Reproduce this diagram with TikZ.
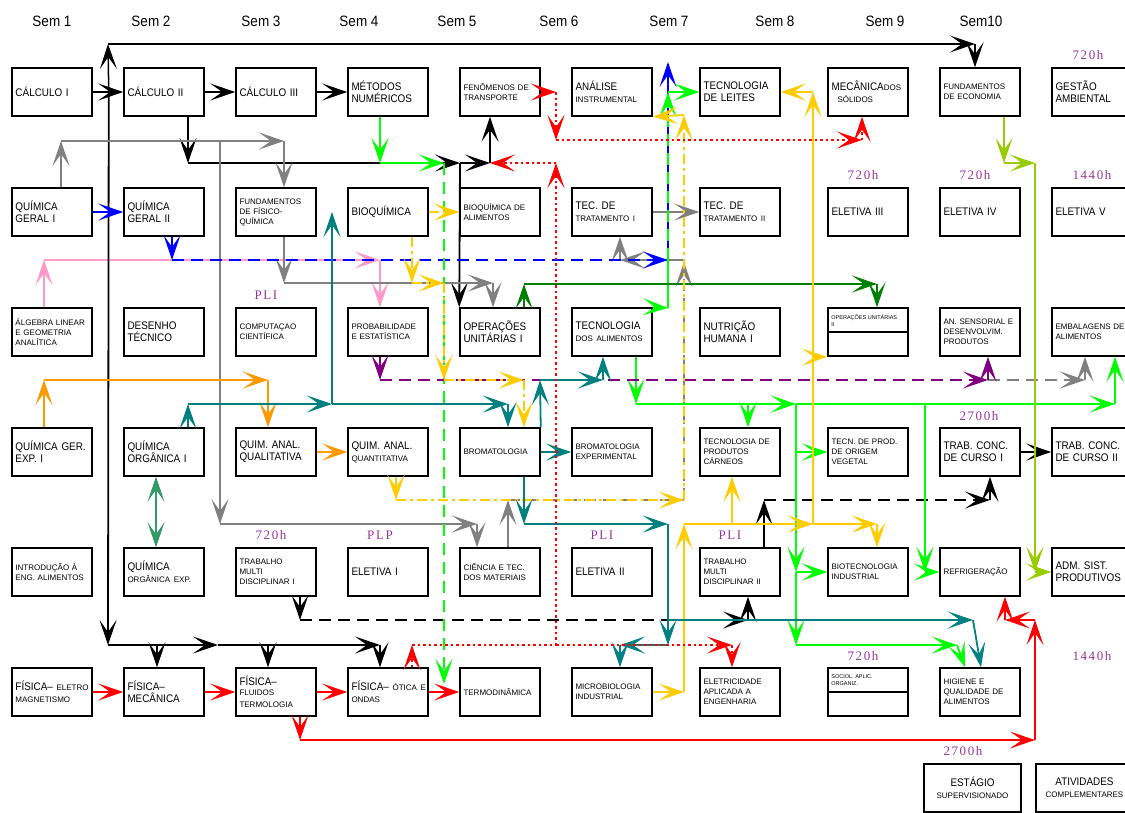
\documentclass[tikz,border=0pt]{standalone}
\usepackage{fontspec}
\setmainfont{Liberation Sans}
\newfontfamily\condfont[FakeStretch=0.9]{Liberation Sans}
\newfontfamily\hrsfont[LetterSpace=12]{Liberation Serif}
\usetikzlibrary{arrows.meta,positioning}

\definecolor{cgray}{HTML}{808080}
\definecolor{cpink}{HTML}{FF99CC}
\definecolor{cgreen}{HTML}{00FF00}
\definecolor{cdkgreen}{HTML}{008000}
\definecolor{csea}{HTML}{339966}
\definecolor{cteal}{HTML}{008080}
\definecolor{corange}{HTML}{FF9900}
\definecolor{cyellow}{HTML}{FFCC00}
\definecolor{cpurple}{HTML}{800080}
\definecolor{colive}{HTML}{99CC00}
\definecolor{chour}{HTML}{993399}

\newcommand{\bigtxt}{\condfont\fontsize{11}{12}\selectfont}
\newcommand{\smtxt}{\normalfont\fontsize{8}{10}\selectfont}
\newcommand{\tinytxt}{\normalfont\fontsize{5.5}{7}\selectfont}

\tikzset{
  course/.style={draw, line width=1.5pt, fill=white, minimum width=80pt, minimum height=48pt,
    text width=73pt, inner sep=3.5pt, align=left, font=\bigtxt},
  smallc/.style={course, font=\smtxt},
  splitc/.style={course, path picture={\draw[line width=1.5pt] (path picture bounding box.west) -- (path picture bounding box.east);}},
  link/.style={->, line width=1.8pt},
  dsh/.style={dash pattern=on 12pt off 7pt},
  ydash/.style={dash pattern=on 10pt off 4pt on 3pt off 4pt},
  rdots/.style={line width=2.2pt, dash pattern=on 2.5pt off 3pt},
  hrs/.style={text=chour, font=\hrsfont\fontsize{13}{13}\selectfont, inner sep=0pt},
  sem/.style={font=\condfont\fontsize{15}{15}\selectfont, inner sep=0pt},
  >={Stealth[length=25pt,width=17pt,inset=12pt]}
}

\begin{document}
\begin{tikzpicture}[x=1pt,y=1pt,node distance=112pt]
  \useasboundingbox (0,0) rectangle (1125,-812);
  \fill[white] (0,0) rectangle (1125,-812);

  % semesters
  \foreach \x/\t [count=\i] in {52/Sem 1,151/Sem 2,261/Sem 3,359/Sem 4,457/Sem 5,559/Sem 6,669/Sem 7,775/Sem 8,885/Sem 9,981/Sem10}
    \node[sem] (sem\i) at (\x,-21) {\t};

  % row 1
  \node[course] (calc1) at (52,-92) {CÁLCULO I};
  \node[course] (calc2) [right of=calc1] {CÁLCULO II};
  \node[course] (calc3) [right of=calc2] {CÁLCULO III};
  \node[course] (metnum) [right of=calc3] {MÉTODOS\\NUMÉRICOS};
  \node[smallc] (fentr) [right of=metnum] {FENÔMENOS DE\\TRANSPORTE};
  \node[course] (analinst) [right of=fentr] {ANÁLISE\\\smtxt INSTRUMENTAL};
  \node[course] (tecleite) [right of=analinst, node distance=128pt] {TECNOLOGIA\\DE LEITES};
  \node[course] (mecsol) [right of=tecleite, node distance=128pt] {MECÂNICA{\smtxt DOS}\\\smtxt\hspace*{6pt}SÓLIDOS};
  \node[smallc] (fundeco) [right of=mecsol] {FUNDAMENTOS\\DE ECONOMIA};
  \node[course] (gestamb) [right of=fundeco] {GESTÃO\\AMBIENTAL};

  % row 2
  \node[course] (qg1) [below of=calc1, node distance=120pt] {QUÍMICA\\GERAL I};
  \node[course] (qg2) [right of=qg1] {QUÍMICA\\GERAL II};
  \node[smallc] (fisqui) [right of=qg2] {FUNDAMENTOS\\DE FÍSICO-\\QUÍMICA};
  \node[course] (bioq) [right of=fisqui] {BIOQUÍMICA};
  \node[smallc] (bioqal) [right of=bioq] {BIOQUÍMICA DE\\ALIMENTOS};
  \node[course] (tectr1) [right of=bioqal] {TEC. DE\\\smtxt TRATAMENTO I};
  \node[course] (tectr2) [right of=tectr1, node distance=128pt] {TEC. DE\\\smtxt TRATAMENTO II};
  \node[course] (elet3) [right of=tectr2, node distance=128pt] {ELETIVA III};
  \node[course] (elet4) [right of=elet3] {ELETIVA IV};
  \node[course] (elet5) [right of=elet4] {ELETIVA V};

  % row 3
  \node[smallc] (alglin) [below of=qg1, node distance=120pt] {ÁLGEBRA LINEAR\\E GEOMETRIA\\ANALÍTICA};
  \node[course] (desenho) [right of=alglin] {DESENHO\\TÉCNICO};
  \node[smallc] (compcie) [right of=desenho] {COMPUTAÇAO\\CIENTÍFICA};
  \node[smallc] (probest) [right of=compcie] {PROBABILIDADE\\E ESTATÍSTICA};
  \node[course] (opun1) [right of=probest] {OPERAÇÕES\\UNITÁRIAS I};
  \node[course] (tecal) [right of=opun1] {TECNOLOGIA\\\smtxt DOS ALIMENTOS};
  \node[course] (nutr) [right of=tecal, node distance=128pt] {NUTRIÇÃO\\HUMANA I};
  \node[splitc, label={[anchor=north west, font=\tinytxt, align=left, inner sep=0pt, xshift=4pt, yshift=-7pt]north west:OPERAÇÕES UNITÁRIAS\\II}] (opun2) [right of=nutr, node distance=128pt] {};
  \node[smallc] (ansens) [right of=opun2] {AN. SENSORIAL E\\DESENVOLVIM.\\PRODUTOS};
  \node[smallc] (embal) [right of=ansens] {EMBALAGENS DE\\ALIMENTOS};

  % row 4
  \node[course] (qgexp) [below of=alglin, node distance=120pt] {QUÍMICA GER.\\EXP. I};
  \node[course] (qorg1) [right of=qgexp] {QUÍMICA\\ORGÂNICA I};
  \node[course] (qualit) [right of=qorg1] {QUIM. ANAL.\\QUALITATIVA};
  \node[course] (quantit) [right of=qualit] {QUIM. ANAL.\\\smtxt QUANTITATIVA};
  \node[smallc] (broma) [right of=quantit] {BROMATOLOGIA};
  \node[smallc] (bromexp) [right of=broma] {BROMATOLOGIA\\EXPERIMENTAL};
  \node[smallc] (tecarn) [right of=bromexp, node distance=128pt] {TECNOLOGIA DE\\PRODUTOS\\CÁRNEOS};
  \node[smallc] (tecveg) [right of=tecarn, node distance=128pt] {TECN. DE PROD.\\DE ORIGEM\\VEGETAL};
  \node[course] (tcc1) [right of=tecveg] {TRAB. CONC.\\DE CURSO I};
  \node[course] (tcc2) [right of=tcc1] {TRAB. CONC.\\DE CURSO II};

  % row 5
  \node[smallc] (introeng) [below of=qgexp, node distance=120pt] {INTRODUÇÃO À\\ENG. ALIMENTOS};
  \node[course] (qorgexp) [right of=introeng] {QUÍMICA\\\smtxt ORGÂNICA EXP.};
  \node[smallc] (tmd1) [right of=qorgexp] {TRABALHO\\MULTI\\DISCIPLINAR I};
  \node[course] (elet1) [right of=tmd1] {ELETIVA I};
  \node[smallc] (cienmat) [right of=elet1] {CIÊNCIA E TEC.\\DOS MATERIAIS};
  \node[course] (elet2) [right of=cienmat] {ELETIVA II};
  \node[smallc] (tmd2) [right of=elet2, node distance=128pt] {TRABALHO\\MULTI\\DISCIPLINAR II};
  \node[smallc] (biotec) [right of=tmd2, node distance=128pt] {BIOTECNOLOGIA\\INDUSTRIAL};
  \node[smallc] (refrig) [right of=biotec] {REFRIGERAÇÃO};
  \node[course] (admsist) [right of=refrig] {ADM. SIST.\\PRODUTIVOS};

  % row 6
  \node[course] (fiseletro) [below of=introeng, node distance=120pt] {\mbox{FÍSICA–{\smtxt~ELETRO}}\\\smtxt MAGNETISMO};
  \node[course] (fismec) [right of=fiseletro] {FÍSICA–\\MECÂNICA};
  \node[course] (fisflu) [right of=fismec] {FÍSICA–\\\smtxt FLUIDOS\\TERMOLOGIA};
  \node[course] (fisotica) [right of=fisflu] {\mbox{FÍSICA–{\smtxt~ÓTICA E}}\\\smtxt ONDAS};
  \node[smallc] (termo) [right of=fisotica] {TERMODINÂMICA};
  \node[smallc] (microb) [right of=termo] {MICROBIOLOGIA\\INDUSTRIAL};
  \node[smallc] (eletric) [right of=microb, node distance=128pt] {ELETRICIDADE\\APLICADA A\\ENGENHARIA};
  \node[splitc, label={[anchor=north west, font=\tinytxt, align=left, inner sep=0pt, xshift=4pt, yshift=-7pt]north west:SOCIOL. APLIC.\\ORGANIZ.}] (sociol) [right of=eletric, node distance=128pt] {};
  \node[smallc] (higiene) [right of=sociol] {HIGIENE E\\QUALIDADE DE\\ALIMENTOS};

  % estagio
  \node[course, minimum width=97pt, text width=89pt, align=center] (estagio) at (972.5,-788) {ESTÁGIO\\\smtxt SUPERVISIONADO};
  \node[course, minimum width=97pt, text width=89pt, align=center] (ativ) at (1084.5,-788) {ATIVIDADES\\\smtxt COMPLEMENTARES};

  % hours
  \node[hrs] (h1) at (1088,-55) {720h};
  \node[hrs] (h2) at (863,-175) {720h};
  \node[hrs] (h3) at (975,-175) {720h};
  \node[hrs] (h4) at (1092,-175) {1440h};
  \node[hrs] (h5) at (266,-295) {PLI};
  \node[hrs] (h6) at (979,-416) {2700h};
  \node[hrs] (h7) at (271,-535) {720h};
  \node[hrs] (h8) at (380,-535) {PLP};
  \node[hrs] (h9) at (602,-535) {PLI};
  \node[hrs] (h10) at (730,-535) {PLI};
  \node[hrs] (h11) at (863,-656) {720h};
  \node[hrs] (h12) at (1092,-656) {1440h};
  \node[hrs] (h13) at (963,-751) {2700h};

  \coordinate (jc) at ([xshift=16pt]calc1.east);

  % pink
  \path[link, cpink] ([xshift=-8pt]alglin.north) edge (44,-260) (44,-260) edge (380,-260) (380,-260) edge ([xshift=-8pt]probest.north);

  % black
  \path[link] (calc1) edge (calc2) (calc2) edge (calc3) (calc3) edge (metnum) (tcc1) edge (tcc2);
  \path[link, line width=1.5pt] (jc) edge (108,-44) (108,-44) edge (975,-44) (975,-44) edge ([xshift=-5pt]fundeco.north);
  \path[link] (jc) edge (108,-645) (108,-645) edge (218,-645) (218,-645) edge (380,-645) (380,-645) edge ([xshift=-8pt]fisotica.north)
    (157,-645) edge ([xshift=-7pt]fismec.north) (268,-645) edge ([xshift=-8pt]fisflu.north);
  \path[link] ([xshift=24pt]calc2.south) edge (188,-163) (188,-163) edge (460,-163) (460,-163) edge (490,-163)
    (490,-163) edge ([xshift=-10pt]fentr.south) (460,-163) edge (opun1.north west);
  \path[link] ([xshift=24pt]tmd1.south) edge (300,-620) (300,-620) edge[dsh] (748,-620) (748,-620) edge ([xshift=8pt]tmd2.south);
  \path[link] ([xshift=24pt]tmd2.north) edge (764,-500) (764,-500) edge[dsh] (990,-500) (990,-500) edge ([xshift=10pt]tcc1.south);

  % gray
  \path[link, cgray] ([xshift=9pt]qg1.north) edge (61,-141) (61,-141) edge (284,-141) (284,-141) edge ([xshift=8pt]fisqui.north)
    (220,-141) edge (220,-524) (220,-524) edge (477,-524) (477,-524) edge ([xshift=-23pt]cienmat.north)
    ([xshift=8pt]fisqui.south) edge (284,-283) (284,-283) edge (493,-283) (493,-283) edge ([xshift=-7pt]opun1.north);
  \path[link, cgray, line width=1.2pt] ([xshift=8pt]cienmat.north) edge (508,-500) (tectr1) edge (tectr2);
  \path[link, cgray] (508,-500) edge[-, dsh] (684,-500) (684,-500) edge[dsh] (684,-262) (684,-260) edge (620,-260)
    (620,-260) edge ([xshift=8pt]tectr1.south) (684,-380) edge[dsh] (1085,-380) (1085,-380) edge ([xshift=-7pt]embal.south);

  % blue
  \path[link, blue] (qg1) edge (qg2) ([xshift=8pt]qg2.south) edge (172,-260) (172,-260) edge[dsh] (668,-260) (668,-260) edge (668,-62);

  % green
  \path[link, cgreen] ([xshift=-8pt]metnum.south) edge (380,-163) (380,-163) edge (444,-163) (444,-163) edge[dsh] (444,-684)
    (tecal.north east) edge (668,-308) (668,-308) edge[-] (668,-260) (668,-260) edge[dsh] (668,-92) (668,-92) edge (tecleite)
    ([xshift=24pt]tecal.south) edge (636,-404) (636,-404) edge (796,-404) (796,-404) edge (1115,-404)
    (1115,-404) edge ([xshift=23pt]embal.south) (748,-404) edge ([xshift=8pt]tecarn.north)
    (796,-404) edge (796,-572) (796,-452) edge (tecveg) (796,-572) edge (biotec) (796,-572) edge (796,-645)
    (796,-645) edge (957,-645) (957,-645) edge ([xshift=-15pt]higiene.north)
    (925,-404) edge (925,-572) (925,-572) edge (refrig);

  % dark green
  \path[link, cdkgreen] ([xshift=24pt]opun1.north) edge (524,-284) (524,-284) edge (877,-284) (877,-284) edge ([xshift=9pt]opun2.north);

  % sea green
  \path[link, <->, csea] ([xshift=-8pt]qorg1.south) edge ([xshift=-8pt]qorgexp.north);

  % orange
  \path[link, corange] ([xshift=-8pt]qgexp.north) edge (44,-380) (44,-380) edge (268,-380) (268,-380) edge ([xshift=-8pt]qualit.north)
    (qualit) edge (quantit);

  % purple
  \path[link, cpurple] ([xshift=-8pt]probest.south) edge (380,-380) (380,-380) edge[dsh] (988,-380) (988,-380) edge ([xshift=8pt]ansens.south);

  % yellow
  \path[link, cyellow] (bioq) edge[ydash] (bioqal) ([xshift=24pt]bioq.south) edge[ydash] (412,-283) (412,-283) edge[ydash] (444,-283)
    (444,-283) edge[ydash] (444,-380) (444,-380) edge[ydash] (524,-380) (524,-380) edge[ydash] ([xshift=24pt]broma.north)
    ([xshift=8pt]quantit.south) edge (396,-500) (396,-500) edge[ydash] (684,-500) (684,-500) edge[ydash] (684,-115)
    (684,-115) edge (analinst.south east)
    (microb) edge (684,-692) (684,-692) edge (684,-524) (684,-524) edge (813,-524) (732,-524) edge ([xshift=-8pt]tecarn.south)
    (813,-524) edge (877,-524) (877,-524) edge ([xshift=9pt]biotec.north) (813,-524) edge (813,-92) (813,-92) edge (tecleite)
    (813,-357) edge (opun2.south west);

  % teal
  \path[link, cteal] ([xshift=24pt]qorg1.north) edge (188,-404) (188,-404) edge (332,-404) (332,-404) edge (332,-212)
    (332,-404) edge (508,-404) (508,-404) edge ([xshift=8pt]broma.north)
    (broma.north east) edge (540,-380) (540,-380) edge (603,-380) (603,-380) edge ([xshift=-9pt]tecal.south)
    (broma) edge (bromexp)
    ([xshift=24pt]broma.south) edge (524,-524) (524,-524) edge (668,-524) (668,-524) edge[-] (668,-620)
    (668,-620) edge (668,-645) (668,-645) edge (620,-645) (620,-645) edge ([xshift=8pt]microb.north)
    (668,-620) edge (973,-620) (973,-620) edge ([xshift=1pt]higiene.north);

  % red
  \path[link, red, line width=1.4pt] (fiseletro) edge (fismec) (fismec) edge (fisflu) (fisflu) edge (fisotica) (fisotica) edge (termo);
  \path[link, red] ([xshift=24pt]fisflu.south) edge (300,-740) (300,-740) edge (1035,-740) (1035,-740) edge (1035,-620)
    (1035,-620) edge (1005,-620) (1005,-620) edge ([xshift=25pt]refrig.south);
  \path[link, red, rdots] (fentr) edge (556,-92) (556,-92) edge (556,-140) (556,-140) edge (862,-140) (862,-140) edge ([xshift=-6pt]mecsol.south)
    ([xshift=24pt]fisotica.north) edge (412,-645) (412,-645) edge[-] (556,-645) (556,-645) edge (556,-163) (556,-163) edge (490,-163)
    (556,-645) edge (732,-645) (732,-645) edge ([xshift=-8pt]eletric.north);

  % olive
  \path[link, colive] ([xshift=24pt]fundeco.south) edge (1004,-163) (1004,-163) edge (1035,-163) (1035,-163) edge (1035,-572) (1035,-572) edge (admsist);
\end{tikzpicture}
\end{document}
